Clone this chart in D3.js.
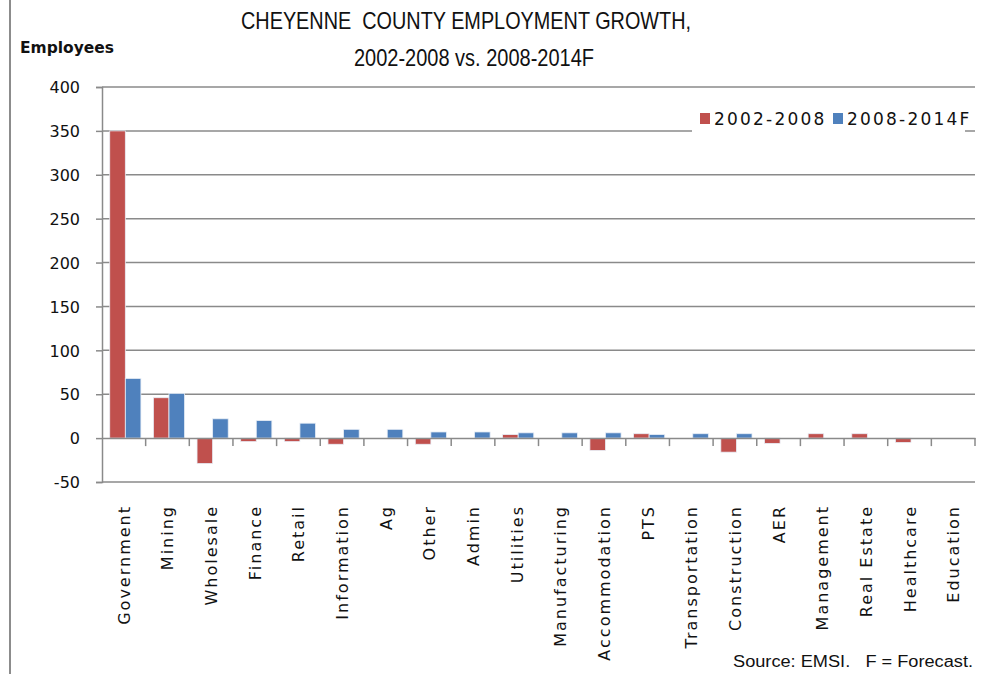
<!DOCTYPE html>
<html>
<head>
<meta charset="utf-8">
<script src="https://cdn.jsdelivr.net/npm/d3@7"></script>
<style>
  body { margin: 0; background: #fff; }
  svg { display: block; }
  text { white-space: pre; }
</style>
</head>
<body>
<div id="chart"></div>
<script>
// Data
const categories = ["Government", "Mining", "Wholesale", "Finance", "Retail", "Information", "Ag", "Other", "Admin", "Utilities",
  "Manufacturing", "Accommodation", "PTS", "Transportation", "Construction", "AER", "Management", "Real Estate", "Healthcare", "Education"];
const seriesNames = ["2002-2008", "2008-2014F"];
const growth0208 = [350, 46, -29, -4, -4, -7, 0, -7, 0, 4, 0, -14, 5, 0, -16, -6, 5, 5, -5, 0];
const growth0814 = [68, 51, 22, 20, 17, 10, 10, 7, 7, 6, 6, 6, 4, 5, 5, 0, 0, 0, 0, 0];
const yTicks = [-50, 0, 50, 100, 150, 200, 250, 300, 350, 400];
const colors = ["#C0504D", "#4F81BD"];

const width = 987, height = 674;
const margin = { left: 102, right: 12, top: 87, bottom: 192 };

const svg = d3.select("#chart").append("svg")
  .attr("width", width).attr("height", height)
  .style("font-family", "'DejaVu Sans', sans-serif");

// left frame line
svg.append("line").attr("x1", 10).attr("x2", 10).attr("y1", 0).attr("y2", height)
  .attr("stroke", "#8c8c8c").attr("stroke-width", 2);

const x = d3.scaleBand().domain(categories).range([margin.left, width - margin.right]);
const xs = d3.scaleBand().domain(seriesNames).range([1.5, x.bandwidth() + 1.5]).paddingInner(0).paddingOuter(0.4);
const y = d3.scaleLinear().domain([-50, 400]).range([height - margin.bottom, margin.top]);

// gridlines
svg.append("g").selectAll("line").data(yTicks.filter(d => d !== 0)).join("line")
  .attr("x1", margin.left).attr("x2", width - margin.right)
  .attr("y1", d => y(d)).attr("y2", d => y(d))
  .attr("stroke", "#8a8a8a").attr("stroke-width", 1.5);

// y axis
const yAxis = svg.append("g").attr("transform", `translate(${margin.left},0)`)
  .call(d3.axisLeft(y).tickValues(yTicks).tickSize(6).tickPadding(16).tickFormat(d => String(d)));
yAxis.select(".domain").attr("stroke", "#8a8a8a").attr("stroke-width", 1.5);
yAxis.selectAll(".tick line").attr("stroke", "#8a8a8a").attr("stroke-width", 1.5);
yAxis.selectAll("text").attr("font-size", 16).attr("fill", "#111")
  .attr("font-family", "'DejaVu Sans', sans-serif").attr("dy", "0.36em");

// bars
const data = categories.map((c, i) => ({ cat: c, vals: [growth0208[i], growth0814[i]] }));
svg.append("g").selectAll("g").data(data).join("g")
  .attr("transform", d => `translate(${x(d.cat)},0)`)
  .selectAll("rect").data(d => d.vals.map((v, j) => ({ key: seriesNames[j], v, j })))
  .join("rect")
  .filter(d => d.v !== 0)
  .attr("x", d => xs(d.key))
  .attr("width", xs.bandwidth())
  .attr("y", d => y(Math.max(0, d.v)))
  .attr("height", d => Math.abs(y(d.v) - y(0)))
  .attr("fill", d => colors[d.j])
  .attr("stroke", "#e8eef6").attr("stroke-width", 0.8);

// category axis at zero
const xAxis = svg.append("g").attr("transform", `translate(0,${y(0)})`)
  .call(d3.axisBottom(x).tickSize(0).tickFormat(""));
xAxis.select(".domain").attr("stroke", "#8a8a8a").attr("stroke-width", 1.5);
svg.append("g").selectAll("line").data(categories).join("line")
  .attr("x1", d => x(d) + x.bandwidth()).attr("x2", d => x(d) + x.bandwidth())
  .attr("y1", y(0)).attr("y2", y(0) + 8)
  .attr("stroke", "#8a8a8a").attr("stroke-width", 1.5);

// category labels (rotated)
svg.append("g").selectAll("text").data(categories).join("text")
  .attr("transform", d => `translate(${x(d) + x.bandwidth() / 2 + 6},505) rotate(-90)`)
  .attr("text-anchor", "end")
  .attr("font-size", 16).attr("letter-spacing", "2px").attr("fill", "#111")
  .text(d => d);

// legend
const legend = svg.append("g").attr("transform", "translate(692,104)");
legend.append("rect").attr("width", 273).attr("height", 30).attr("fill", "#fff");
const legendItems = legend.selectAll("g").data(seriesNames).join("g")
  .attr("transform", (d, i) => `translate(${8 + i * 133},0)`);
legendItems.append("rect").attr("y", 9).attr("width", 10).attr("height", 11)
  .attr("fill", (d, i) => colors[i]);
legendItems.append("text").attr("x", 14).attr("y", 21)
  .attr("font-size", 17).attr("letter-spacing", "2.2px").attr("fill", "#111")
  .text(d => d);

// titles
svg.append("text").attr("x", 466).attr("y", 29).attr("text-anchor", "middle")
  .attr("font-family", "'Liberation Sans Narrow', 'Liberation Sans', sans-serif")
  .attr("font-size", 24).attr("fill", "#111")
  .attr("textLength", 450).attr("lengthAdjust", "spacingAndGlyphs")
  .text("CHEYENNE  COUNTY EMPLOYMENT GROWTH,");
svg.append("text").attr("x", 474).attr("y", 66).attr("text-anchor", "middle")
  .attr("font-family", "'Liberation Sans Narrow', 'Liberation Sans', sans-serif")
  .attr("font-size", 24).attr("fill", "#111")
  .attr("textLength", 240).attr("lengthAdjust", "spacingAndGlyphs")
  .text("2002-2008 vs. 2008-2014F");

svg.append("text").attr("x", 20).attr("y", 53)
  .attr("font-size", 15).attr("font-weight", "bold").attr("fill", "#111")
  .attr("textLength", 94).attr("lengthAdjust", "spacingAndGlyphs")
  .text("Employees");

svg.append("text").attr("x", 733).attr("y", 667)
  .attr("font-family", "'Liberation Sans Narrow', 'Liberation Sans', sans-serif")
  .attr("font-size", 16).attr("fill", "#111")
  .attr("textLength", 240).attr("lengthAdjust", "spacingAndGlyphs")
  .text("Source: EMSI.   F = Forecast.");
</script>
</body>
</html>
